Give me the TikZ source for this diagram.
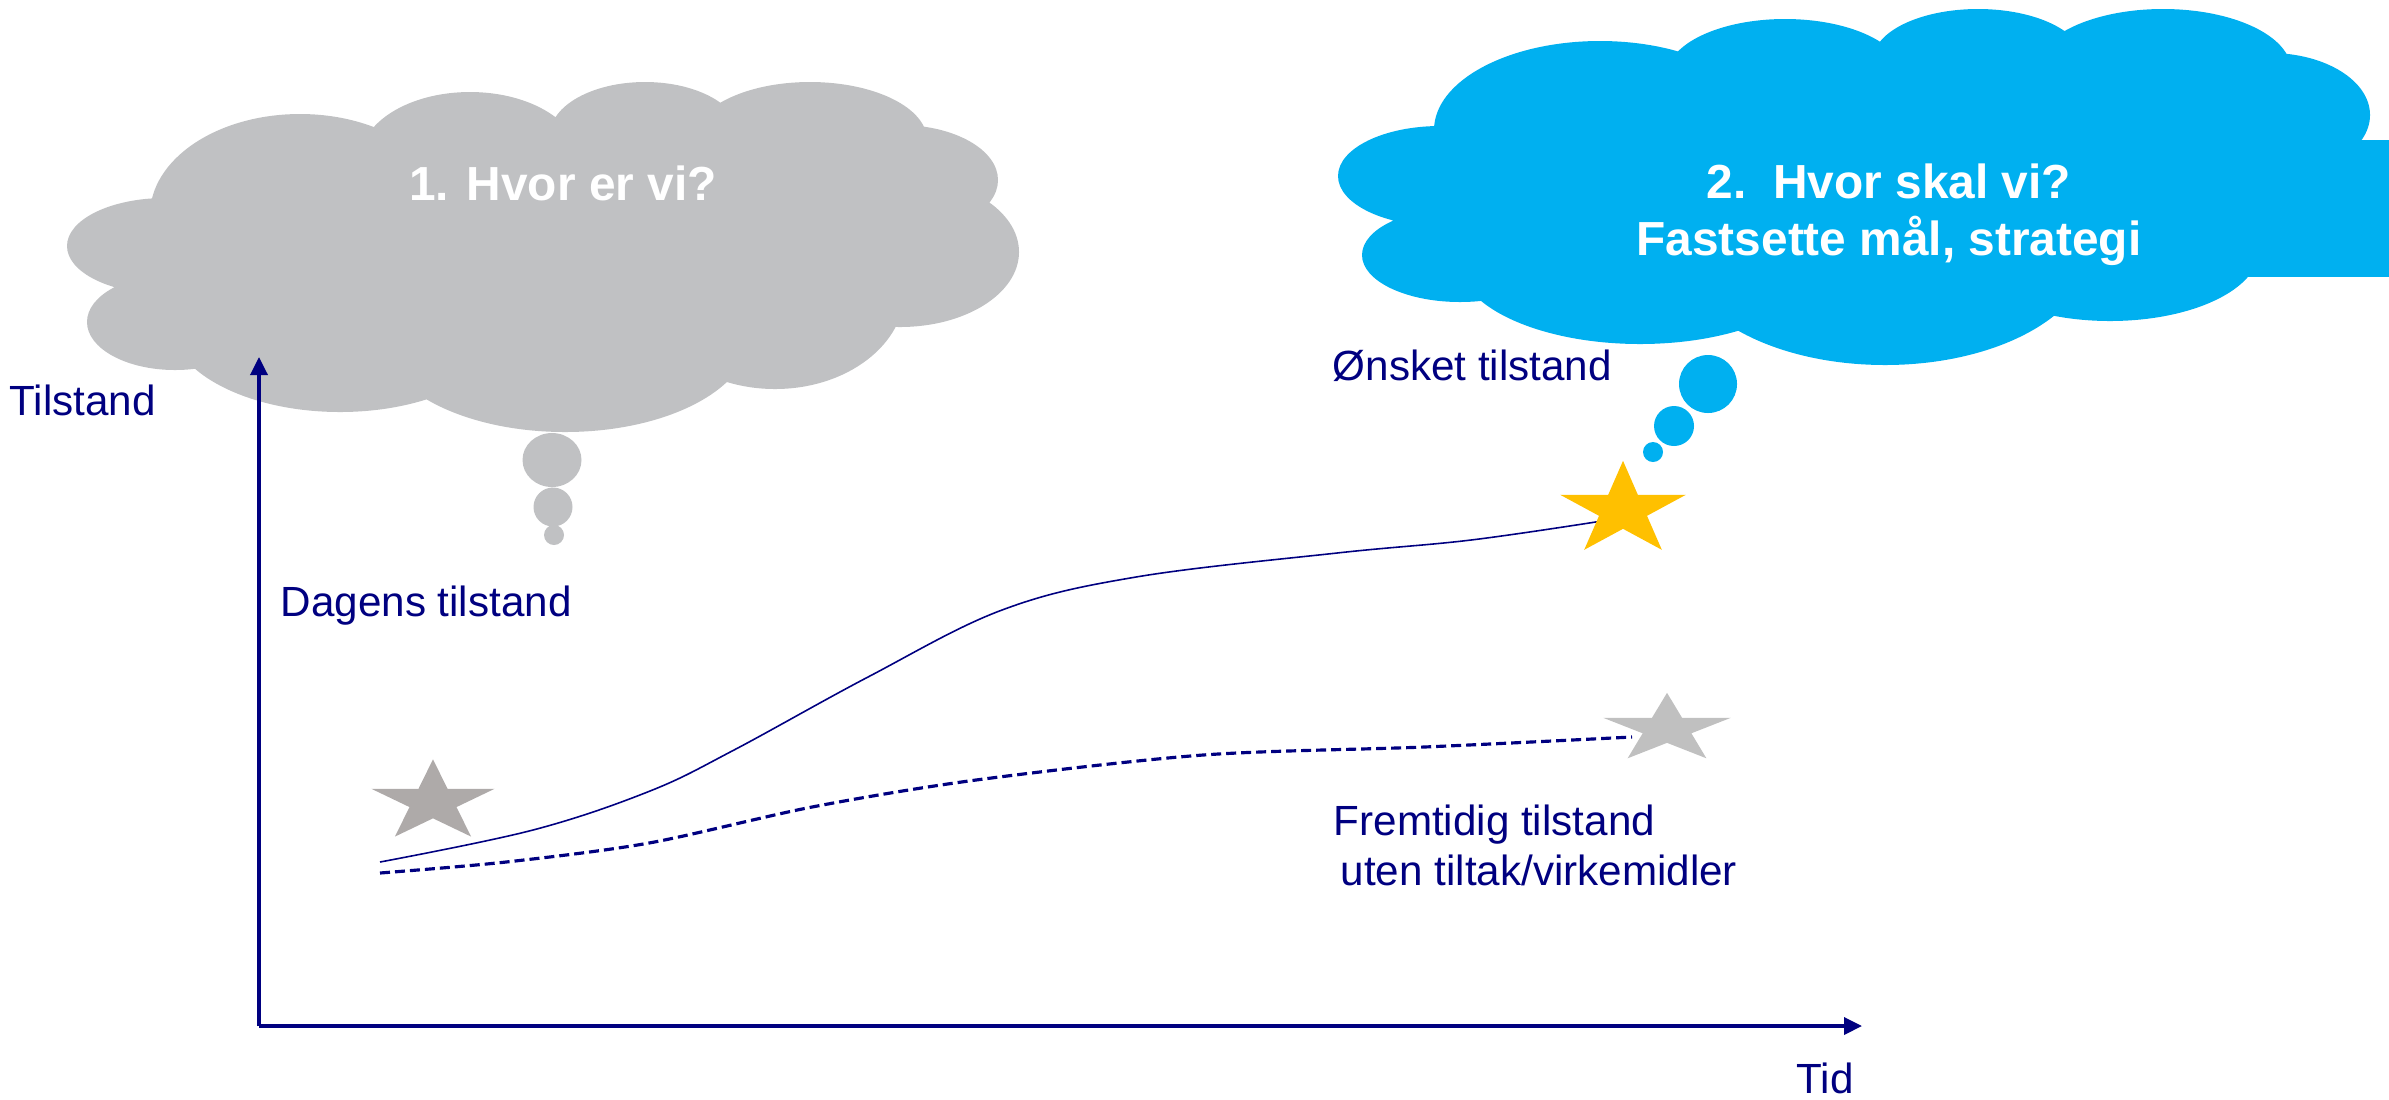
\documentclass[tikz,border=0pt]{standalone}
\usepackage{fontspec}
\setmainfont{Liberation Sans}
\usetikzlibrary{arrows.meta,shapes.geometric}
\definecolor{axisblue}{RGB}{0,0,128}
\definecolor{cloudgray}{RGB}{192,193,195}
\definecolor{cloudblue}{RGB}{0,176,240}
\definecolor{stargold}{RGB}{255,192,0}
\definecolor{stardark}{RGB}{174,170,169}
\definecolor{starlight}{RGB}{192,192,192}
\begin{document}
\begin{tikzpicture}[x=0.01cm, y=-0.01cm,
        gcloud/.style = {fill=cloudgray},
        bcloud/.style = {fill=cloudblue},
        lbl/.style = {text=axisblue, inner sep=0, font=\fontsize{12}{14.2}\selectfont},
        qtext/.style = {text=white, inner sep=0, font=\fontsize{13.6}{16.2}\selectfont\bfseries},
        axis/.style = {axisblue, line width=1pt, -{Triangle[length=0.18cm, width=0.17cm]}},
        prize/.style = {star, star points=5, star point ratio=2.618, inner sep=0}]
    \useasboundingbox (0,0) rectangle (2389,1099);
    \fill[gcloud] (165,246) ellipse [x radius=98, y radius=48] (175,322) ellipse [x radius=88, y radius=48]
        (340,320) ellipse [x radius=171, y radius=92] (565,335) ellipse [x radius=185, y radius=97]
        (775,290) ellipse [x radius=130, y radius=99] (900,252) ellipse [x radius=119, y radius=75]
        (900,180) ellipse [x radius=98, y radius=55] (810,140) ellipse [x radius=117, y radius=58]
        (645,135) ellipse [x radius=95, y radius=53] (470,160) ellipse [x radius=110, y radius=68]
        (300,215) ellipse [x radius=150, y radius=101] (560,260) ellipse [x radius=360, y radius=130];
    \fill[gcloud] (552,460) ellipse [x radius=29.5, y radius=27] (553,507) circle [radius=19.5] (554,535) circle [radius=10];
    \fill[bcloud] (2245,140) rectangle (2389,277);
    \fill[bcloud] (1600,130) ellipse [x radius=166, y radius=89] (1785,75) ellipse [x radius=118, y radius=56]
        (1978,60) ellipse [x radius=105, y radius=51] (2163,70) ellipse [x radius=128, y radius=61]
        (2270,115) ellipse [x radius=100, y radius=62] (2110,250) ellipse [x radius=149, y radius=71]
        (1885,250) ellipse [x radius=206, y radius=115] (1640,260) ellipse [x radius=182, y radius=84]
        (1460,255) ellipse [x radius=98, y radius=47] (1440,176) ellipse [x radius=102, y radius=50]
        (1860,190) ellipse [x radius=400, y radius=140];
    \fill[bcloud] (1708,384) circle [radius=29] (1674,426) circle [radius=20] (1653,452) circle [radius=10];
    \node[qtext, anchor=base] (q1) at (563,200) {1. Hvor er vi?};
    \node[qtext, anchor=base, align=center] (q2) at (1889,255) {2.\ \ Hvor skal vi?\\Fastsette mål, strategi};
    \coordinate (o) at (259,1026);
    \coordinate (ytop) at (259,357);
    \coordinate (xend) at (1862,1026);
    \draw[axis] (o) -- (ytop);
    \draw[axis] (o) -- (xend);
    \node[lbl, anchor=base west] (tilst) at (9,415) {Tilstand};
    \node[lbl, anchor=base] (tid) at (1825,1093) {Tid};
    \node[lbl, anchor=base west] (dagens) at (280,616) {Dagens tilstand};
    \node[lbl, anchor=base west] (onsket) at (1332,380) {Ønsket tilstand};
    \node[lbl, anchor=base west, align=left] (fremtid) at (1333,885) {Fremtidig tilstand\\\hspace*{0.07cm}uten tiltak/virkemidler};
    \coordinate (s1) at (380,862);
    \coordinate (s2) at (380,873);
    \coordinate (e1) at (1602,521);
    \coordinate (e2) at (1632,737);
    \draw[axisblue, line width=0.45pt] plot[smooth, tension=0.6] coordinates {(s1) (533,830) (650,791) (734,750)
        (868,677) (1002,610) (1136,577) (1337,553) (1471,540) (e1)};
    \draw[axisblue, line width=0.9pt, dash pattern=on 0.1cm off 0.05cm] plot[smooth] coordinates {(s2) (506,862)
        (649,843) (812,807) (976,780) (1203,755) (1424,747) (e2)};
    \node[prize, fill=stardark, minimum size=1.294cm, yscale=0.66] (now) at (433,802) {};
    \node[prize, fill=stargold, minimum size=1.32cm, yscale=0.745] (goal) at (1623,510) {};
    \node[prize, fill=starlight, minimum size=1.34cm, yscale=0.54] (drift) at (1667,729) {};
\end{tikzpicture}
\end{document}
